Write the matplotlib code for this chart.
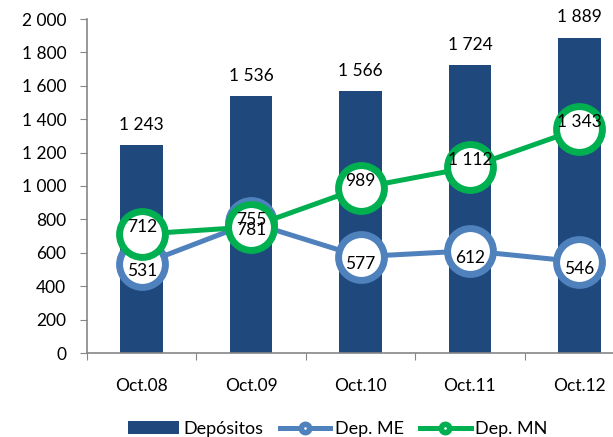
import matplotlib.pyplot as plt
import matplotlib.ticker as mticker
from matplotlib.lines import Line2D

periods = ['Oct.08', 'Oct.09', 'Oct.10', 'Oct.11', 'Oct.12']
depositos = [1243, 1536, 1566, 1724, 1889]
dep_me = [531, 781, 577, 612, 546]
dep_mn = [712, 755, 989, 1112, 1343]

bar_color = '#1F497D'
me_color = '#4F81BD'
mn_color = '#00B050'

plt.rcParams['font.family'] = ['Lato', 'DejaVu Sans']


def fmt(v):
    return f'{v:,.0f}'.replace(',', ' ')


fig = plt.figure(figsize=(6.13, 4.37), dpi=100)
ax = fig.add_axes([87 / 613, 84 / 437, 547 / 613, 334 / 437])

x = list(range(len(periods)))
bars = ax.bar(x, depositos, width=0.39, color=bar_color, label='Depósitos', zorder=1)
for xi, v in zip(x, depositos):
    ax.annotate(fmt(v), (xi, v), xytext=(0, 9), textcoords='offset points',
                ha='center', va='bottom', fontsize=12.5)

line_kw = dict(linewidth=3.6, marker='o', markersize=33, markerfacecolor='white',
               markeredgewidth=5, zorder=3)
ax.plot(x, dep_me, color=me_color, label='Dep. ME', **line_kw)
ax.plot(x, dep_mn, color=mn_color, label='Dep. MN', **line_kw)

for xi, v in zip(x, dep_me):
    ax.annotate(fmt(v), (xi, v), xytext=(0, -5), textcoords='offset points',
                ha='center', va='center', fontsize=12.5, zorder=5)
for xi, v in zip(x, dep_mn):
    ax.annotate(fmt(v), (xi, v), xytext=(0, 5), textcoords='offset points',
                ha='center', va='center', fontsize=12.5, zorder=5)

ax.set_xlim(-0.5, len(periods) - 0.5)
ax.set_ylim(0, 2000)
ax.yaxis.set_major_locator(mticker.MultipleLocator(200))
ax.yaxis.set_major_formatter(mticker.FuncFormatter(lambda v, p: fmt(v)))

# tick marks between categories, labels centred on categories
ax.set_xticks([i - 0.5 for i in range(len(periods) + 1)])
ax.set_xticklabels([])
ax.set_xticks(x, minor=True)
ax.set_xticklabels(periods, minor=True)
ax.tick_params(axis='x', which='minor', length=0, pad=18, labelsize=12.5)
ax.tick_params(axis='x', which='major', length=5, color='#868686', direction='out')
ax.tick_params(axis='y', length=5, color='#868686', labelsize=12.5, pad=10)

for s in ['top', 'right']:
    ax.spines[s].set_visible(False)
for s in ['left', 'bottom']:
    ax.spines[s].set_color('#868686')
    ax.spines[s].set_linewidth(1.2)

leg_handles = [
    bars,
    Line2D([], [], color=me_color, lw=3.6, marker='o', markersize=6,
           markerfacecolor='white', markeredgewidth=4),
    Line2D([], [], color=mn_color, lw=3.6, marker='o', markersize=6,
           markerfacecolor='white', markeredgewidth=4),
]
fig.legend(leg_handles, ['Depósitos', 'Dep. ME', 'Dep. MN'], loc='center',
           bbox_to_anchor=(338 / 613, 1 - 429 / 437), ncol=3, frameon=False,
           fontsize=13, handlelength=2.8, handletextpad=0.25, columnspacing=0.9)

fig.savefig('out.png', dpi=100)
